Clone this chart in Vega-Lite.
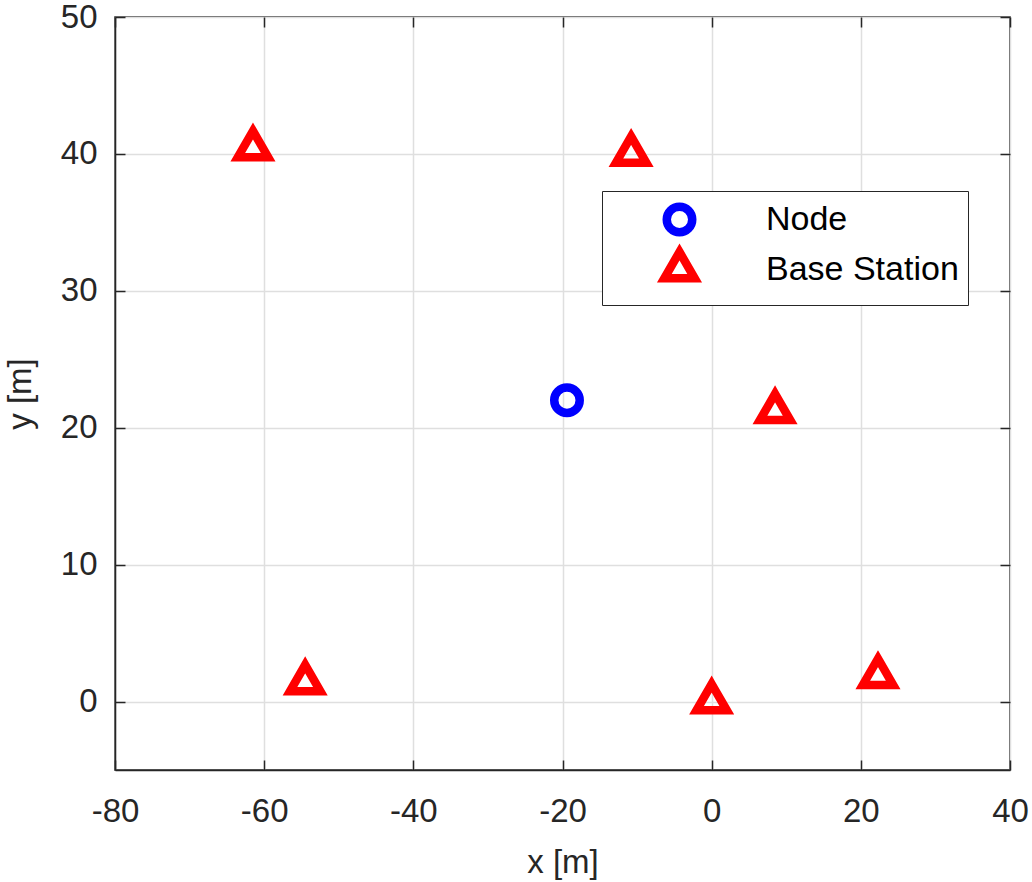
{
  "$schema": "https://vega.github.io/schema/vega-lite/v6.json",
  "width": 895,
  "height": 753,
  "autosize": {"type": "none"},
  "padding": {"left": 115, "top": 17, "right": 22, "bottom": 112},
  "background": "white",
  "config": {
    "view": {"stroke": "#262626", "strokeWidth": 1.5},
    "font": "Liberation Sans"
  },
  "data": {
    "values": [
      {"x": -19.4, "y": 22.0, "type": "Node"},
      {"x": -61.5, "y": 40.4, "type": "Base Station"},
      {"x": -10.8, "y": 40.0, "type": "Base Station"},
      {"x": 8.5, "y": 21.2, "type": "Base Station"},
      {"x": -54.5, "y": 1.4, "type": "Base Station"},
      {"x": 0.0, "y": 0.0, "type": "Base Station"},
      {"x": 22.3, "y": 1.85, "type": "Base Station"}
    ]
  },
  "layer": [
    {
      "mark": {"type": "point", "filled": false, "strokeWidth": 8.5, "opacity": 1, "size": 920, "strokeJoin": "miter"},
      "encoding": {
        "x": {
          "field": "x", "type": "quantitative",
          "scale": {"domain": [-80, 40], "nice": false, "zero": false},
          "axis": {
            "orient": "bottom",
            "values": [-80, -60, -40, -20, 0, 20, 40],
            "labelExpr": "toString(datum.value)",
            "title": "x [m]",
            "labelFontSize": 33, "labelColor": "#262626", "labelFont": "Liberation Sans",
            "labelPadding": 35, "labelFlush": false, "labelOverlap": false,
            "tickSize": -10, "tickColor": "#262626", "tickWidth": 1.5,
            "domainColor": "#262626", "domainWidth": 1.5,
            "grid": true, "gridColor": "#dfdfdf", "gridWidth": 1.5,
            "titleFontSize": 33, "titleFontWeight": "normal", "titleColor": "#262626", "titleFont": "Liberation Sans",
            "titlePadding": 18
          }
        },
        "y": {
          "field": "y", "type": "quantitative",
          "scale": {"domain": [-5, 50], "nice": false, "zero": false},
          "axis": {
            "orient": "left",
            "values": [0, 10, 20, 30, 40, 50],
            "labelExpr": "toString(datum.value)",
            "title": "y [m]",
            "labelFontSize": 33, "labelColor": "#262626", "labelFont": "Liberation Sans",
            "labelPadding": 28, "labelFlush": false, "labelOverlap": false,
            "tickSize": -10, "tickColor": "#262626", "tickWidth": 1.5,
            "domainColor": "#262626", "domainWidth": 1.5,
            "grid": true, "gridColor": "#dfdfdf", "gridWidth": 1.5,
            "titleFontSize": 33, "titleFontWeight": "normal", "titleColor": "#262626", "titleFont": "Liberation Sans",
            "titlePadding": 23
          }
        },
        "shape": {
          "field": "type", "type": "nominal",
          "scale": {
            "domain": ["Node", "Base Station"],
            "range": ["M0.84,0A0.84,0.84,0,1,1,-0.84,0A0.84,0.84,0,1,1,0.84,0Z", "M0,-1.155L1,0.577L-1,0.577Z"]
          },
          "legend": {
            "orient": "none", "legendX": 487, "legendY": 174,
            "title": null, "padding": 9,
            "symbolOffset": 49, "labelOffset": 67, "labelLimit": 500,
            "symbolSize": 920, "symbolStrokeWidth": 8.5,
            "labelFontSize": 34, "labelColor": "black", "labelFont": "Liberation Sans",
            "rowPadding": -18,
            "strokeColor": "#262626", "fillColor": "white", "cornerRadius": 0
          }
        },
        "color": {
          "field": "type", "type": "nominal",
          "scale": {"domain": ["Node", "Base Station"], "range": ["#0000ff", "#ff0000"]},
          "legend": {
            "orient": "none", "legendX": 487, "legendY": 174,
            "title": null, "padding": 9,
            "symbolOffset": 49, "labelOffset": 67, "labelLimit": 500,
            "symbolSize": 920, "symbolStrokeWidth": 8.5,
            "labelFontSize": 34, "labelColor": "black", "labelFont": "Liberation Sans",
            "rowPadding": -18,
            "strokeColor": "#262626", "fillColor": "white", "cornerRadius": 0
          }
        }
      }
    },
    {
      "mark": {"type": "point", "opacity": 0},
      "encoding": {
        "x": {
          "field": "x", "type": "quantitative",
          "axis": {
            "orient": "top", "values": [-80, -60, -40, -20, 0, 20, 40],
            "labels": false, "title": null, "grid": false, "domain": false,
            "tickSize": -10, "tickColor": "#262626", "tickWidth": 1.5
          }
        },
        "y": {
          "field": "y", "type": "quantitative",
          "axis": {
            "orient": "right", "values": [0, 10, 20, 30, 40, 50],
            "labels": false, "title": null, "grid": false, "domain": false,
            "tickSize": -10, "tickColor": "#262626", "tickWidth": 1.5
          }
        }
      }
    }
  ],
  "resolve": {"axis": {"x": "independent", "y": "independent"}}
}
